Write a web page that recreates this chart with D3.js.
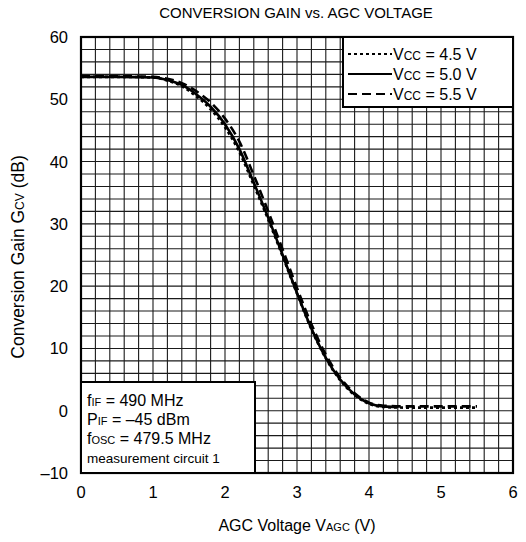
<!DOCTYPE html>
<html>
<head>
<meta charset="utf-8">
<script src="https://cdn.jsdelivr.net/npm/d3@7/dist/d3.min.js"></script>
<style>
  body { margin: 0; background: #fff; }
  svg { display: block; font-family: "Liberation Sans", Arial, sans-serif; }
  .grid line { stroke: #1a1a1a; stroke-width: 1.1; }
  .tick-label { font-size: 16.5px; fill: #000; }
</style>
</head>
<body>
<div id="chart"></div>
<script>
(function () {
  "use strict";

  // Vcc = 5.0 V (solid)
  const vcc50 = [
    [0, 53.6], [0.5, 53.6], [1.0, 53.5], [1.2, 53.1], [1.4, 52.3], [1.6, 50.8],
    [1.8, 48.8], [2.0, 46.0], [2.2, 42.0], [2.4, 36.6], [2.6, 31.0], [2.8, 25.0],
    [3.0, 18.9], [3.2, 13.2], [3.4, 8.5], [3.6, 5.0], [3.8, 2.6], [4.0, 1.2],
    [4.2, 0.7], [4.4, 0.6]
  ];
  // Vcc = 4.5 V (dotted)
  const vcc45 = [
    [0, 53.6], [0.5, 53.6], [1.0, 53.5], [1.2, 53.0], [1.4, 52.1], [1.6, 50.5],
    [1.8, 48.4], [2.0, 45.5], [2.2, 41.5], [2.4, 36.2], [2.6, 30.7], [2.8, 24.8],
    [3.0, 18.8], [3.2, 13.1], [3.4, 8.4], [3.6, 4.9], [3.8, 2.5], [4.0, 1.1],
    [4.2, 0.6], [4.5, 0.5], [5.0, 0.5], [5.5, 0.5]
  ];
  // Vcc = 5.5 V (dashed)
  const vcc55 = [
    [0, 53.7], [0.5, 53.7], [1.0, 53.6], [1.2, 53.3], [1.4, 52.6], [1.6, 51.3],
    [1.8, 49.5], [2.0, 46.9], [2.2, 43.2], [2.4, 37.8], [2.6, 32.0], [2.8, 25.9],
    [3.0, 19.7], [3.2, 13.9], [3.4, 9.0], [3.6, 5.3], [3.8, 2.8], [4.0, 1.3],
    [4.2, 0.8], [4.5, 0.7], [5.0, 0.7], [5.5, 0.7]
  ];

  const series = [
    { label: "4.5 V", values: vcc45, dash: "3,3" },
    { label: "5.0 V", values: vcc50, dash: null },
    { label: "5.5 V", values: vcc55, dash: "9,5" }
  ];

  const xTicks = [0, 1, 2, 3, 4, 5, 6];
  const yTicks = [-10, 0, 10, 20, 30, 40, 50, 60];

  const width = 526, height = 542;
  const left = 81, right = 513, top = 37, bottom = 473;

  const svg = d3.select("#chart").append("svg")
    .attr("width", width).attr("height", height);

  const x = d3.scaleLinear().domain([0, 6]).range([left, right]);
  const y = d3.scaleLinear().domain([-10, 60]).range([bottom, top]);

  // grid
  const grid = svg.append("g").attr("class", "grid");
  grid.selectAll("line.v")
    .data(d3.range(1, 30).map((i) => i * 0.2))
    .join("line")
    .attr("x1", (d) => x(d)).attr("x2", (d) => x(d))
    .attr("y1", top).attr("y2", bottom);
  grid.selectAll("line.h")
    .data(d3.range(1, 35).map((i) => -10 + i * 2))
    .join("line")
    .attr("x1", left).attr("x2", right)
    .attr("y1", (d) => y(d)).attr("y2", (d) => y(d));

  // curves
  const line = d3.line().x((d) => x(d[0])).y((d) => y(d[1])).curve(d3.curveMonotoneX);
  svg.append("g").selectAll("path")
    .data(series)
    .join("path")
    .attr("d", (s) => line(s.values))
    .attr("fill", "none")
    .attr("stroke", "#000")
    .attr("stroke-width", 2.6)
    .attr("stroke-dasharray", (s) => s.dash);

  // frame
  svg.append("rect")
    .attr("x", left).attr("y", top)
    .attr("width", right - left).attr("height", bottom - top)
    .attr("fill", "none").attr("stroke", "#000").attr("stroke-width", 2.2);

  // tick labels
  svg.append("g").selectAll("text")
    .data(xTicks)
    .join("text")
    .attr("class", "tick-label")
    .attr("x", (d) => x(d)).attr("y", 498)
    .attr("text-anchor", "middle")
    .text((d) => d);
  svg.append("g").selectAll("text")
    .data(yTicks)
    .join("text")
    .attr("class", "tick-label")
    .attr("x", 68).attr("y", (d) => y(d) + 6)
    .attr("text-anchor", "end")
    .text((d) => (d < 0 ? "\u2013" + Math.abs(d) : d));

  // title
  svg.append("text")
    .attr("x", 296).attr("y", 18)
    .attr("text-anchor", "middle")
    .attr("font-size", 15)
    .text("CONVERSION GAIN vs. AGC VOLTAGE");

  // axis titles with small subscripts
  const xt = svg.append("text")
    .attr("x", 297).attr("y", 531)
    .attr("text-anchor", "middle").attr("font-size", 16);
  xt.append("tspan").text("AGC Voltage V");
  xt.append("tspan").attr("font-size", 11).text("AGC");
  xt.append("tspan").text(" (V)");

  const yt = svg.append("text")
    .attr("transform", "translate(24,257) rotate(-90)")
    .attr("text-anchor", "middle").attr("font-size", 17.5);
  yt.append("tspan").text("Conversion Gain G");
  yt.append("tspan").attr("font-size", 12).text("CV");
  yt.append("tspan").text(" (dB)");

  // legend
  const lg = svg.append("g");
  lg.append("rect")
    .attr("x", 343).attr("y", top)
    .attr("width", right - 343).attr("height", 70)
    .attr("fill", "#fff").attr("stroke", "#000").attr("stroke-width", 2);
  series.forEach((s, i) => {
    const cy = 54 + i * 20;
    lg.append("line")
      .attr("x1", 348).attr("x2", 392)
      .attr("y1", cy).attr("y2", cy)
      .attr("stroke", "#000").attr("stroke-width", 2.2)
      .attr("stroke-dasharray", s.dash);
    const t = lg.append("text")
      .attr("x", 393).attr("y", cy + 6).attr("font-size", 16);
    t.append("tspan").text("V");
    t.append("tspan").attr("font-size", 12).text("CC");
    t.append("tspan").text(" = " + s.label);
  });

  // conditions box
  const cb = svg.append("g");
  cb.append("rect")
    .attr("x", left).attr("y", 382)
    .attr("width", 255 - left).attr("height", bottom - 382)
    .attr("fill", "#fff").attr("stroke", "#000").attr("stroke-width", 2);
  const conds = [
    ["f", "IF", " = 490 MHz"],
    ["P", "IF", " = \u201345 dBm"],
    ["f", "OSC", " = 479.5 MHz"]
  ];
  conds.forEach((c, i) => {
    const t = cb.append("text")
      .attr("x", 87).attr("y", 406 + i * 19).attr("font-size", 16);
    t.append("tspan").text(c[0]);
    t.append("tspan").attr("font-size", 11).text(c[1]);
    t.append("tspan").text(c[2]);
  });
  cb.append("text")
    .attr("x", 87).attr("y", 463).attr("font-size", 13.5)
    .text("measurement circuit 1");
})();
</script>
</body>
</html>
